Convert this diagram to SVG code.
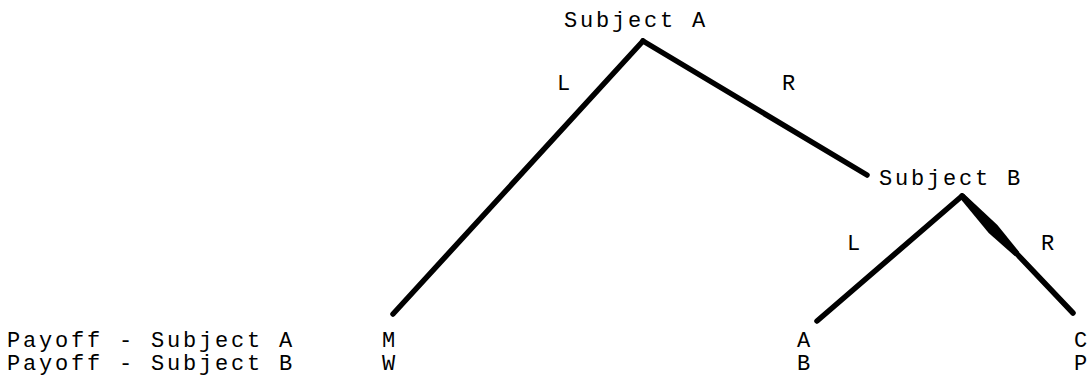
<svg xmlns="http://www.w3.org/2000/svg" width="1090" height="383" viewBox="0 0 1090 383">
<style>
text{font-family:"Liberation Mono","DejaVu Sans Mono",monospace;font-size:22px;letter-spacing:2.8px;fill:#000}
.e{stroke:#000;stroke-width:5.5;stroke-linecap:round;fill:none}
</style>
<rect width="1090" height="383" fill="#fff"/>
<g id="connectors">
<line class="e" x1="643" y1="41" x2="393" y2="314"/>
<line class="e" x1="643" y1="41" x2="867" y2="175"/>
<line class="e" x1="962" y1="196" x2="817" y2="321"/>
<line class="e" x1="962" y1="196" x2="1073" y2="313"/>
<polygon points="964.2,193.9 997.4,224.9 1019.2,251.9 1014.8,256.1 988.7,233.1 959.8,198.1" fill="#000"/>
<text x="557" y="90">L</text>
<text x="782" y="90">R</text>
<text x="847" y="250">L</text>
<text x="1041" y="250">R</text>
</g>
<g id="subjectA"><text x="564" y="27">Subject A</text></g>
<g id="subjectB"><text x="879" y="185">Subject B</text></g>
<g id="leafM"><text x="382" y="347">M</text><text x="382" y="370">W</text></g>
<g id="leafA"><text x="797" y="347">A</text><text x="797" y="370">B</text></g>
<g id="leafC"><text x="1074" y="347">C</text><text x="1074" y="370">P</text></g>
<g id="legend"><text x="7" y="347">Payoff - Subject A</text><text x="7" y="370">Payoff - Subject B</text></g>
</svg>
